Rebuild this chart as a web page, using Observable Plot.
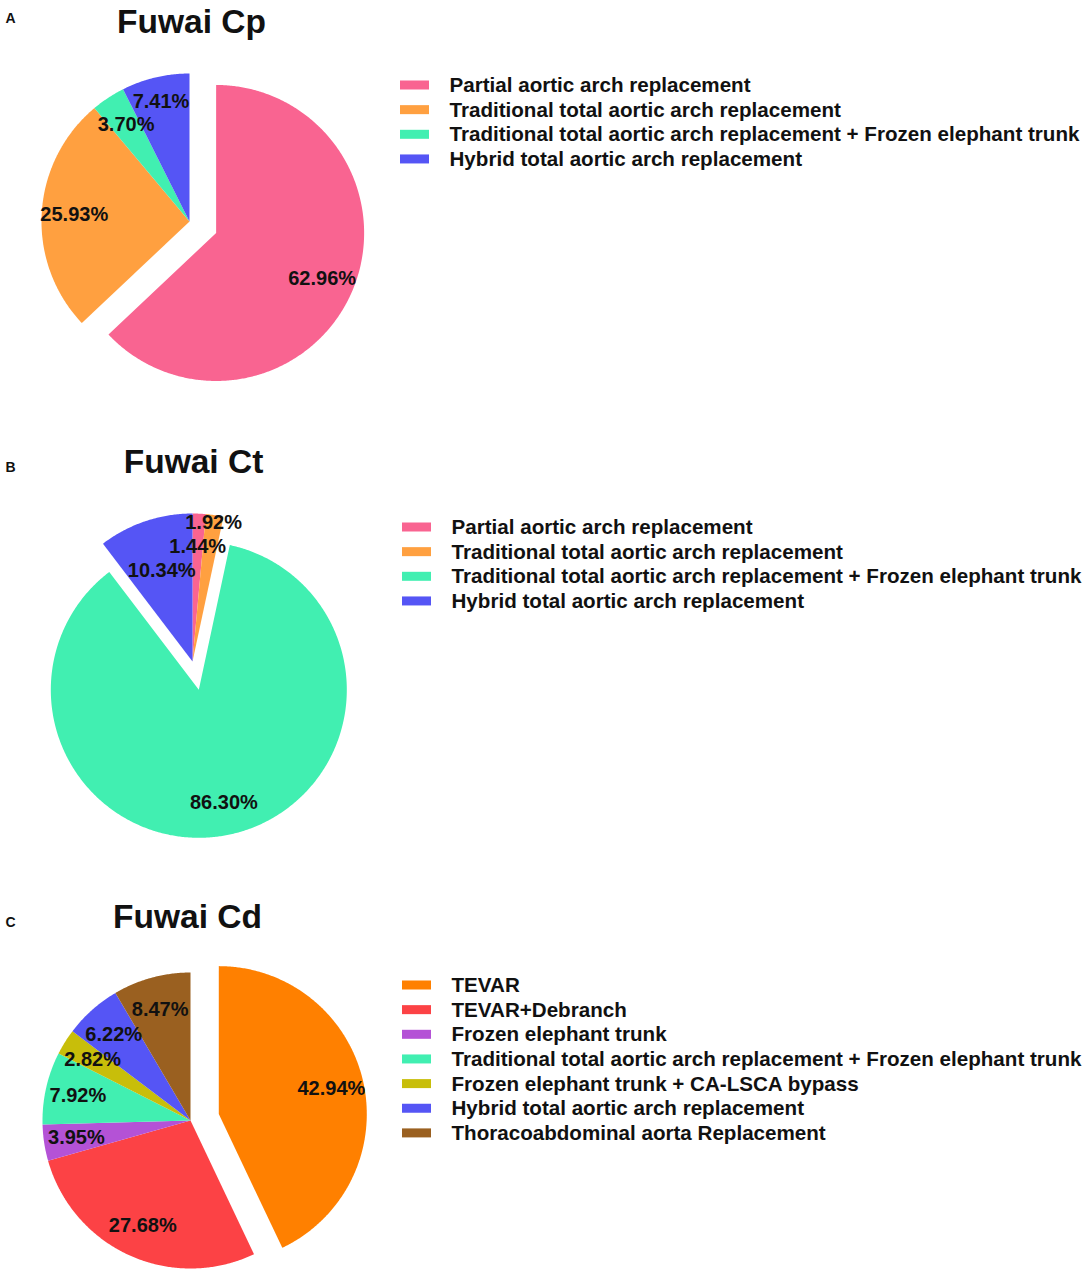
<!DOCTYPE html>
<html>
<head>
<meta charset="utf-8">
<script src="https://cdn.jsdelivr.net/npm/d3@7"></script>
<script src="https://cdn.jsdelivr.net/npm/@observablehq/plot@0.6"></script>
<style>
  body { margin: 0; background: #fff; }
  #chart svg { display: block; }
</style>
</head>
<body>
<div id="chart"></div>
<script>
// ---------- data ----------
const categoriesA = [
  "Partial aortic arch replacement",
  "Traditional total aortic arch replacement",
  "Traditional total aortic arch replacement + Frozen elephant trunk",
  "Hybrid total aortic arch replacement"
];
const valuesA = [62.96, 25.93, 3.70, 7.41];

const categoriesB = [
  "Partial aortic arch replacement",
  "Traditional total aortic arch replacement",
  "Traditional total aortic arch replacement + Frozen elephant trunk",
  "Hybrid total aortic arch replacement"
];
const valuesB = [1.44, 1.92, 86.30, 10.34];

const categoriesC = [
  "TEVAR",
  "TEVAR+Debranch",
  "Frozen elephant trunk",
  "Traditional total aortic arch replacement + Frozen elephant trunk",
  "Frozen elephant trunk + CA-LSCA bypass",
  "Hybrid total aortic arch replacement",
  "Thoracoabdominal aorta Replacement"
];
const valuesC = [42.94, 27.68, 3.95, 7.92, 2.82, 6.22, 8.47];

const titles = ["Fuwai Cp", "Fuwai Ct", "Fuwai Cd"];
const panelLetters = ["A", "B", "C"];
const explodedSlices = [
  "Partial aortic arch replacement",
  "Traditional total aortic arch replacement + Frozen elephant trunk",
  "TEVAR"
];

const colorDomain = [
  "Partial aortic arch replacement",
  "Traditional total aortic arch replacement",
  "Traditional total aortic arch replacement + Frozen elephant trunk",
  "Hybrid total aortic arch replacement",
  "TEVAR",
  "TEVAR+Debranch",
  "Frozen elephant trunk",
  "Frozen elephant trunk + CA-LSCA bypass",
  "Thoracoabdominal aorta Replacement"
];
const colorRange = [
  "#F96491", "#FFA040", "#41EFB1", "#5555F5",
  "#FF8000", "#FC4245", "#B452D6", "#C8BE0A", "#9A6020"
];

// ---------- layout ----------
const W = 1084, H = 1276;
const R = 148, EXPLODE = 29, LABEL_R = 0.78;
const FONT = "'Liberation Sans', Arial, Helvetica, sans-serif";
const layout = [
  {cx: 189, cy: 221, titleX: 191, titleY: 32, letterY: 22, swX: 400, textX: 449, legY: 85},
  {cx: 192, cy: 661, titleX: 193, titleY: 472, letterY: 471, swX: 402, textX: 451, legY: 527},
  {cx: 190, cy: 1120, titleX: 187, titleY: 927, letterY: 926, swX: 402, textX: 451, legY: 985}
];
const LEG_STEP = 24.65;

const panels = [
  {cats: categoriesA, vals: valuesA},
  {cats: categoriesB, vals: valuesB},
  {cats: categoriesC, vals: valuesC}
];

const ctx = document.createElement("canvas").getContext("2d");
ctx.font = "bold 20px " + FONT;
const measure = s => ctx.measureText(s).width;

const slicePts = [], labels = [], legend = [], titleRows = [], letterRows = [];

panels.forEach((p, pi) => {
  const L = layout[pi];
  const data = p.cats.map((c, i) => ({category: c, value: p.vals[i]}));
  const arcs = d3.pie().sort(null).value(d => d.value)(data);
  const placed = [];
  arcs.forEach((a, i) => {
    const mid = (a.startAngle + a.endAngle) / 2;
    const off = a.data.category === explodedSlices[pi] ? EXPLODE : 0;
    const ox = L.cx + off * Math.sin(mid), oy = L.cy - off * Math.cos(mid);
    const key = pi + "-" + i;
    const category = a.data.category;
    slicePts.push({key, category, x: ox, y: oy});
    const n = Math.max(2, Math.ceil((a.endAngle - a.startAngle) / (Math.PI / 360)));
    for (let k = 0; k <= n; k++) {
      const t = a.startAngle + (a.endAngle - a.startAngle) * k / n;
      slicePts.push({key, category, x: ox + R * Math.sin(t), y: oy - R * Math.cos(t)});
    }
    // label: at mid angle, nudged along the radius if it collides with an earlier one
    const text = a.data.value.toFixed(2) + "%";
    const w = measure(text), h = 23;
    const pos = lr => [ox + lr * Math.sin(mid), oy - lr * Math.cos(mid)];
    const free = ([lx, ly]) => !placed.some(b => Math.abs(b.x - lx) < (b.w + w) / 2 && Math.abs(b.y - ly) < (b.h + h) / 2);
    const base = R * LABEL_R;
    let outS = null, inS = null;
    for (let s = 0; s <= 80; s += 1) { if (free(pos(base + s))) { outS = s; break; } }
    for (let s = 0; s <= 50; s += 1) { if (free(pos(base - s))) { inS = s; break; } }
    let lr = base;
    if (outS !== null && (inS === null || outS <= inS * 1.25)) lr = base + outS;
    else if (inS !== null) lr = base - inS;
    const [lx, ly] = pos(lr);
    placed.push({x: lx, y: ly, w, h});
    labels.push({text, x: lx, y: ly});
    legend.push({category, x1: L.swX, x2: L.swX + 29, yc: L.legY + i * LEG_STEP, tx: L.textX});
  });
  titleRows.push({text: titles[pi], x: L.titleX, y: L.titleY});
  letterRows.push({text: panelLetters[pi], x: 5, y: L.letterY});
});

const chart = Plot.plot({
  width: W,
  height: H,
  margin: 0,
  x: {domain: [0, W], range: [0, W], axis: null},
  y: {domain: [0, H], range: [0, H], axis: null},
  color: {domain: colorDomain, range: colorRange},
  style: {fontFamily: FONT, background: "#fff", color: "#000"},
  marks: [
    Plot.line(slicePts, {x: "x", y: "y", z: "key", fill: "category", stroke: "none", curve: "linear-closed"}),
    Plot.text(labels, {x: "x", y: "y", text: "text", fontSize: 20, fontWeight: "bold", fill: "#111"}),
    Plot.rect(legend, {x1: "x1", x2: "x2", y1: d => d.yc - 4.5, y2: d => d.yc + 4.5, fill: "category"}),
    Plot.text(legend, {x: "tx", y: "yc", text: "category", textAnchor: "start", fontSize: 20.6, fontWeight: "bold", fill: "#111"}),
    Plot.text(titleRows, {x: "x", y: "y", text: "text", fontSize: 33.5, fontWeight: "bold", lineAnchor: "bottom", fill: "#111"}),
    Plot.text(letterRows, {x: "x", y: "y", text: "text", fontSize: 14, fontWeight: "bold", textAnchor: "start", lineAnchor: "bottom", fill: "#111"})
  ]
});
document.getElementById("chart").append(chart);
</script>
</body>
</html>
